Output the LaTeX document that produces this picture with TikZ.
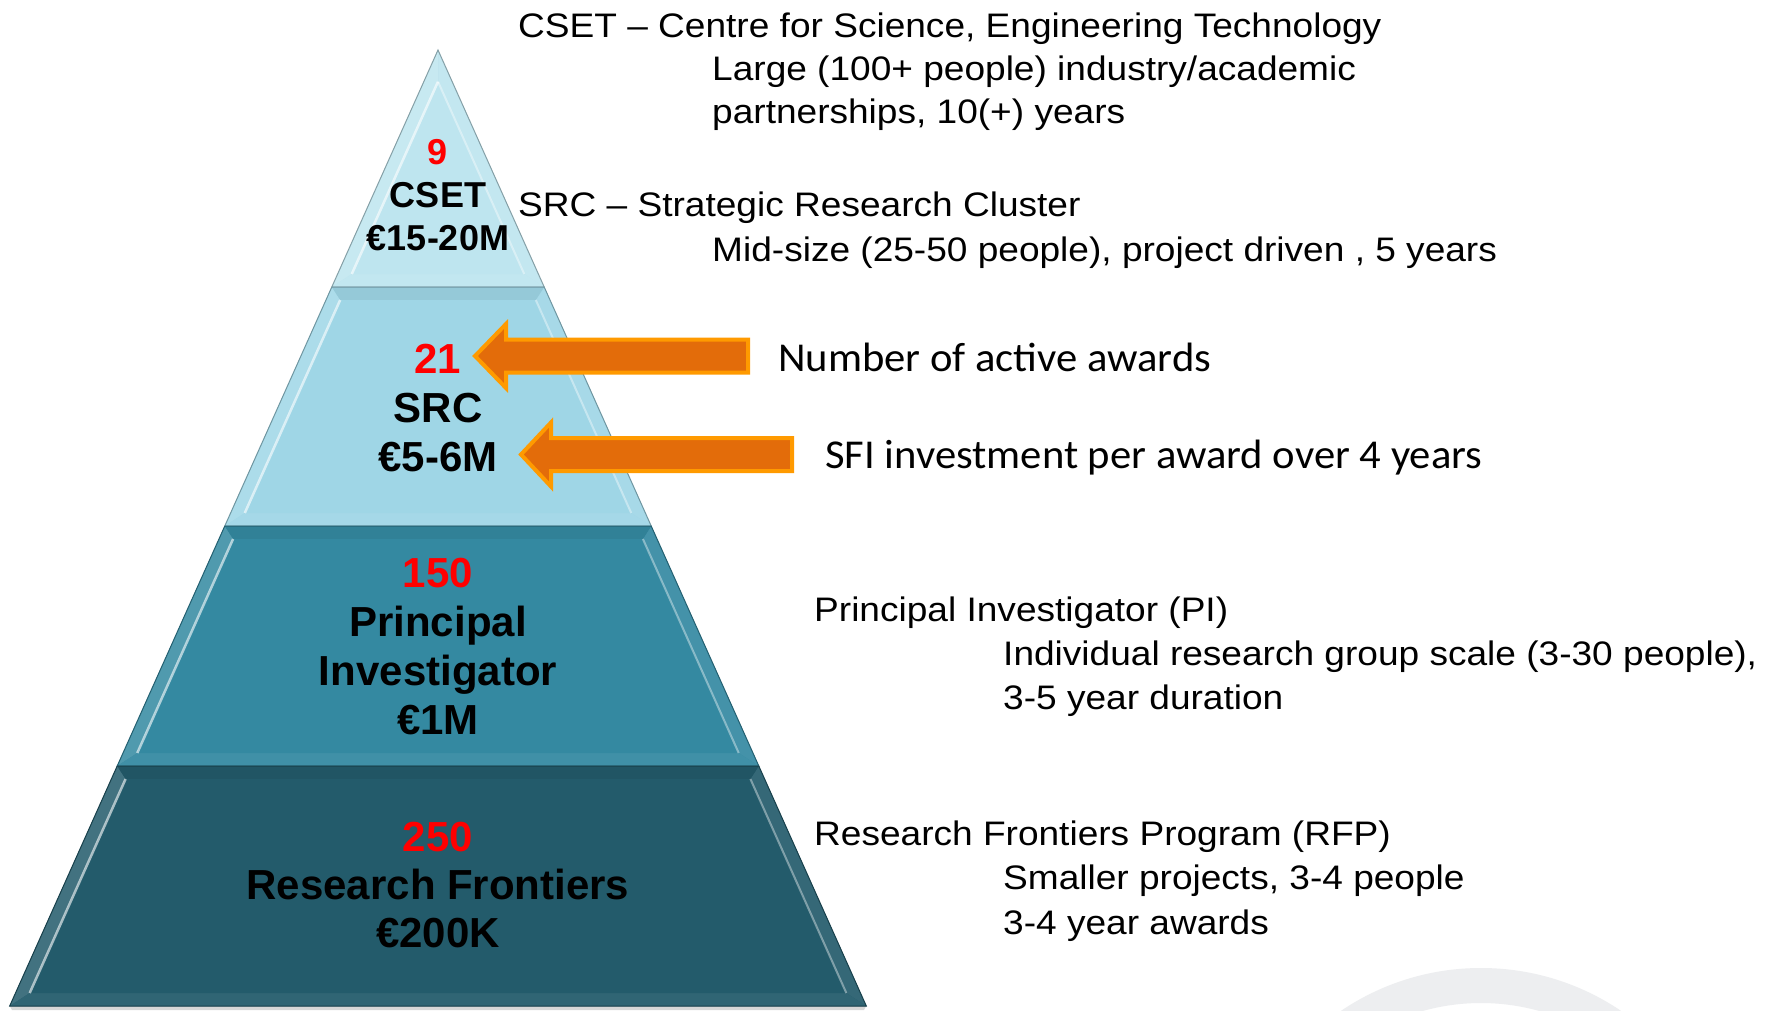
\documentclass[tikz,border=0pt]{standalone}
\usepackage{fontspec}
\setmainfont{Liberation Sans}
\newfontfamily\widesans{Liberation Sans}[FakeStretch=1.09]
\newfontfamily\calib{Carlito}[FakeStretch=1.04]
\usetikzlibrary{calc}
\definecolor{tA}{HTML}{BEE5EF}
\definecolor{tB}{HTML}{9FD6E6}
\definecolor{tC}{HTML}{3489A1}
\definecolor{tD}{HTML}{235B6B}
\definecolor{arrfill}{HTML}{E36C0A}
\definecolor{arrline}{HTML}{FF9A00}
\definecolor{ringgray}{HTML}{EDEEF0}
\definecolor{numred}{HTML}{FF0000}
\newcommand\pyrtier[9]{%
 \fill[#1] #2 -- #3 -- #4 -- #5 -- cycle;
 \fill[#1!86!white] #2 -- #6 -- #9 -- #5 -- cycle;
 \fill[#1!92!white] #3 -- #7 -- #8 -- #4 -- cycle;
 \fill[#1!94!black] #2 -- #3 -- #7 -- #6 -- cycle;
 \fill[#1!94!white] #5 -- #4 -- #8 -- #9 -- cycle;
 \fill[#1] #6 -- #7 -- #8 -- #9 -- cycle;
 \draw[white, opacity=.6, line width=2.5] #6 -- #9;
 \draw[white, opacity=.4, line width=2] #7 -- #8;
 \draw[#1!70!black, line width=1] #2 -- #3 -- #4 -- #5 -- cycle;
}
\tikzset{
 ptext/.style={font=\bfseries\fontsize{42}{48}\selectfont, anchor=base, inner sep=0pt},
 ptextsmall/.style={font=\bfseries\fontsize{36}{43}\selectfont, anchor=base, inner sep=0pt},
 pnum/.style={text=numred},
 rtext/.style={font=\widesans\fontsize{34}{40}\selectfont, anchor=base west, inner sep=0pt},
 ctext/.style={font=\calib\fontsize{41}{48}\selectfont, anchor=base west, inner sep=0pt},
 blockarrow/.style={fill=arrfill, draw=arrline, line width=4pt}
}
\begin{document}
\begin{tikzpicture}[x=1pt,y=-1pt]
\useasboundingbox (0,0) rectangle (1773,1010);
\fill[white] (0,0) rectangle (1773,1010);
% background ring
\begin{scope}
\clip (0,0) rectangle (1773,1010);
\fill[ringgray, even odd rule] (1481,1218) circle[radius=250pt] (1481,1218) circle[radius=215pt];
\end{scope}
% shadow
\fill[black!30, opacity=.5] (9.7,1006) -- (866.3,1006) -- (864,1010) -- (12,1010) -- cycle;
% pyramid tiers
\pyrtier{tA}{(438,50)}{(438,50)}{(544.2,287)}{(331.8,287)}{(438,81.7)}{(438,81.7)}{(524.2,274)}{(351.8,274)}
\pyrtier{tB}{(331.8,287)}{(544.2,287)}{(651.2,526)}{(224.8,526)}{(340.2,300)}{(535.8,300)}{(631.2,513)}{(244.8,513)}
\pyrtier{tC}{(224.8,526)}{(651.2,526)}{(758.8,766)}{(117.2,766)}{(233.1,539)}{(642.9,539)}{(738.7,753)}{(137.3,753)}
\pyrtier{tD}{(117.2,766)}{(758.8,766)}{(866.3,1006)}{(9.7,1006)}{(125.6,779)}{(750.4,779)}{(846.3,993)}{(29.7,993)}
% pyramid texts
\node[ptextsmall, pnum] (csetnum) at (438,164) {9};
\node[ptextsmall] (csetname) at (438,207) {CSET};
\node[ptextsmall] (csetamt) at (438,250) {€15-20M};
\node[ptext, pnum] (srcnum) at (438,373) {21};
\node[ptext] (srcname) at (438,422) {SRC};
\node[ptext] (srcamt) at (438,471) {€5-6M};
\node[ptext, pnum] (pinum) at (438,587) {150};
\node[ptext] (piname) at (438,636) {Principal};
\node[ptext] (piname2) at (438,685) {Investigator};
\node[ptext] (piamt) at (438,734) {€1M};
\node[ptext, pnum] (rfnum) at (438,851) {250};
\node[ptext] (rfname) at (438,899) {Research Frontiers};
\node[ptext] (rfamt) at (438,947) {€200K};
% right texts
\node[rtext] (cseth) at (518,37) {CSET – Centre for Science, Engineering Technology};
\node[rtext] (csetd1) at (712,80) {Large (100+ people) industry/academic};
\node[rtext] (csetd2) at (712,123) {partnerships, 10(+) years};
\node[rtext] (srch) at (518,216) {SRC – Strategic Research Cluster};
\node[rtext] (srcd1) at (712,261) {Mid-size (25-50 people), project driven , 5 years};
\node[rtext] (pih) at (814,621) {Principal Investigator (PI)};
\node[rtext] (pid1) at (1003,665) {Individual research group scale (3-30 people),};
\node[rtext] (pid2) at (1003,709) {3-5 year duration};
\node[rtext] (rfh) at (814,845) {Research Frontiers Program (RFP)};
\node[rtext] (rfd1) at (1003,889) {Smaller projects, 3-4 people};
\node[rtext] (rfd2) at (1003,934) {3-4 year awards};
% arrow labels
\node[ctext] (lblnum) at (778,371) {Number of active awards};
\node[ctext] (lblinv) at (825,468) {SFI investment per award over 4 years};
% block arrows
\coordinate (a1tip) at (475,356);
\coordinate (a1end) at (748,356);
\coordinate (a2tip) at (521,454.5);
\coordinate (a2end) at (792,454.5);
\draw[blockarrow] (a1tip) -- ($(a1tip)+(31,-32)$) -- ($(a1tip)+(31,-16.5)$) -- ($(a1end)+(0,-16.5)$) -- ($(a1end)+(0,16.5)$) -- ($(a1tip)+(31,16.5)$) -- ($(a1tip)+(31,32)$) -- cycle;
\draw[blockarrow] (a2tip) -- ($(a2tip)+(30,-32)$) -- ($(a2tip)+(30,-16.5)$) -- ($(a2end)+(0,-16.5)$) -- ($(a2end)+(0,16.5)$) -- ($(a2tip)+(30,16.5)$) -- ($(a2tip)+(30,32)$) -- cycle;
\end{tikzpicture}
\end{document}
